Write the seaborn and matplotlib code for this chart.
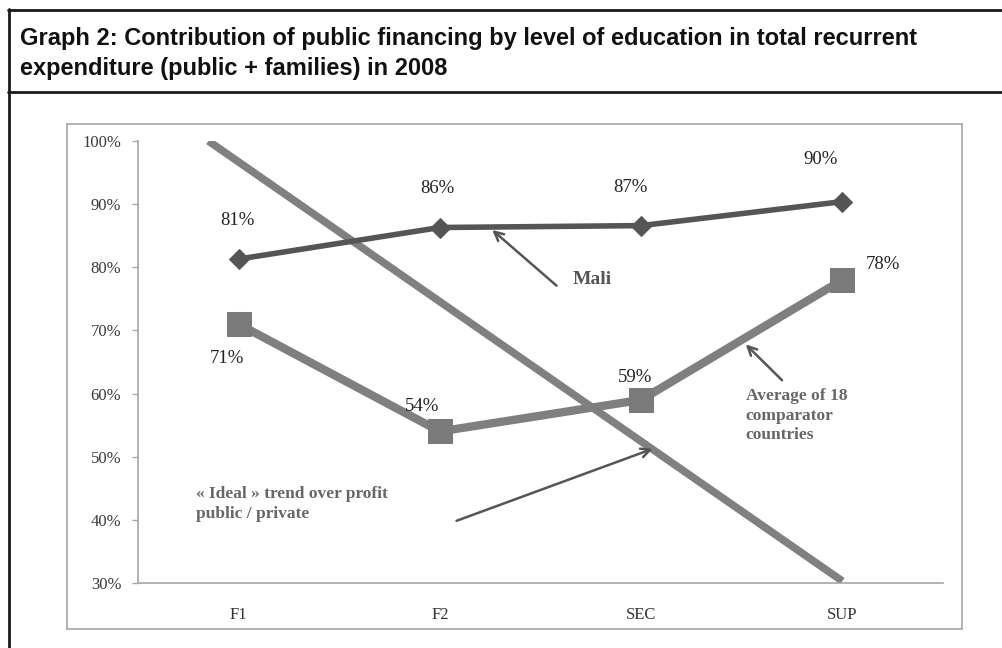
import numpy as np
import pandas as pd
import seaborn as sns
import matplotlib.pyplot as plt
from matplotlib.ticker import PercentFormatter

# Data
levels = ["F1", "F2", "SEC", "SUP"]
mali = [0.813, 0.863, 0.866, 0.904]
average18 = [0.71, 0.54, 0.59, 0.78]
ideal_x = [-0.15, 3.0]
ideal_y = [1.00, 0.303]

sns.set_theme(style="white")
plt.rcParams["font.family"] = ["Liberation Serif", "DejaVu Serif"]

W, H = 1002, 648
fig = plt.figure(figsize=(W / 100, H / 100), dpi=100)


def fx(px):
    return px / W


def fy(py):
    return 1 - py / H


def hline(x0, x1, y, **kw):
    fig.lines.append(plt.Line2D([fx(x0), fx(x1)], [fy(y), fy(y)], transform=fig.transFigure, **kw))


def vline(x, y0, y1, **kw):
    fig.lines.append(plt.Line2D([fx(x), fx(x)], [fy(y0), fy(y1)], transform=fig.transFigure, **kw))


# Report-style panel borders
box = dict(color="#1a1a1a", linewidth=2.0)
hline(8, W, 10, **box)
hline(8, W, 92, **box)
vline(9, 9, H, **box)
frame = dict(color="#a6a6a6", linewidth=1.2)
hline(67, 962, 124, **frame)
hline(67, 962, 629, **frame)
vline(67, 124, 629, **frame)
vline(962, 124, 629, **frame)

title_kw = dict(family=["Liberation Sans", "DejaVu Sans"], weight="bold", fontsize=17,
                va="baseline", ha="left", color="#111111")
fig.text(fx(20), fy(45), "Graph 2: Contribution of public financing by level of education in total recurrent",
         **title_kw)
fig.text(fx(20), fy(75), "expenditure (public + families) in 2008", **title_kw)

ax = fig.add_axes([fx(138), fy(583), fx(943 - 138), (583 - 141) / H])

x = np.arange(len(levels))
df = pd.DataFrame({"pos": np.concatenate([x, x]),
                   "value": mali + average18,
                   "series": ["Mali"] * 4 + ["Average"] * 4})
df_ideal = pd.DataFrame({"pos": ideal_x, "value": ideal_y})

sns.lineplot(data=df_ideal, x="pos", y="value", ax=ax, color="#808080", linewidth=5.5,
             solid_capstyle="butt", zorder=2)
sns.lineplot(data=df[df.series == "Average"], x="pos", y="value", ax=ax, color="#7f7f7f",
             linewidth=6, marker="s", markersize=17, markeredgecolor="#7a7a7a",
             markerfacecolor="#7a7a7a", zorder=3)
sns.lineplot(data=df[df.series == "Mali"], x="pos", y="value", ax=ax, color="#555555",
             linewidth=4, marker="D", markersize=10, markeredgecolor="#555555",
             markerfacecolor="#555555", zorder=4)

ax.set_xlim(-0.5, 3.5)
ax.set_ylim(0.30, 1.00)
ax.set_yticks(np.arange(0.3, 1.001, 0.1))
ax.yaxis.set_major_formatter(PercentFormatter(1.0, decimals=0))
ax.set_xticks(x)
ax.set_xticklabels(levels)
ax.set_xticks(np.arange(-0.5, 3.51, 1), minor=True)
ax.tick_params(axis="x", which="major", length=0, pad=17, labelsize=12, colors="#333333")
ax.tick_params(axis="x", which="minor", length=4, width=1, color="#a6a6a6", direction="out")
ax.tick_params(axis="y", which="major", length=4, width=1, color="#a6a6a6", labelsize=12,
               colors="#3a3a3a", left=True, pad=8)
ax.set_xlabel("")
ax.set_ylabel("")
for s in ["top", "right"]:
    ax.spines[s].set_visible(False)
for s in ["left", "bottom"]:
    ax.spines[s].set_color("#a6a6a6")
    ax.spines[s].set_linewidth(1.2)

# Value labels
lab_kw = dict(fontsize=13.5, color="#222222", ha="center", va="center")
mali_off = [(-0.005, 0.061), (-0.01, 0.062), (-0.055, 0.060), (-0.11, 0.067)]
for i, (v, (dx, dy)) in enumerate(zip(mali, mali_off)):
    ax.text(i + dx, v + dy, f"{v * 100:.0f}%", **lab_kw)
avg_off = [(-0.06, -0.055), (-0.09, 0.04), (-0.03, 0.036), (0.2, 0.025)]
for i, (v, (dx, dy)) in enumerate(zip(average18, avg_off)):
    ax.text(i + dx, v + dy, f"{v * 100:.0f}%", **lab_kw)

# Annotations
ann_kw = dict(fontsize=12.5, weight="bold", color="#666666", ha="left", va="center")
arrow = dict(arrowstyle="->", color="#555555", lw=1.8, mutation_scale=16)
ax.annotate("", xy=(1.25, 0.862), xytext=(1.59, 0.768), arrowprops=arrow)
ax.text(1.66, 0.78, "Mali", fontsize=14, weight="bold", color="#555555", ha="left", va="center")
ax.annotate("", xy=(2.51, 0.681), xytext=(2.71, 0.618), arrowprops=arrow)
ax.text(2.52, 0.565, "Average of 18\ncomparator\ncountries", linespacing=1.3, **ann_kw)
ax.annotate("", xy=(2.07, 0.514), xytext=(1.07, 0.397), arrowprops=arrow)
ax.text(-0.21, 0.425, "« Ideal » trend over profit\npublic / private", linespacing=1.3, **ann_kw)

fig.savefig("out.png", dpi=100)
